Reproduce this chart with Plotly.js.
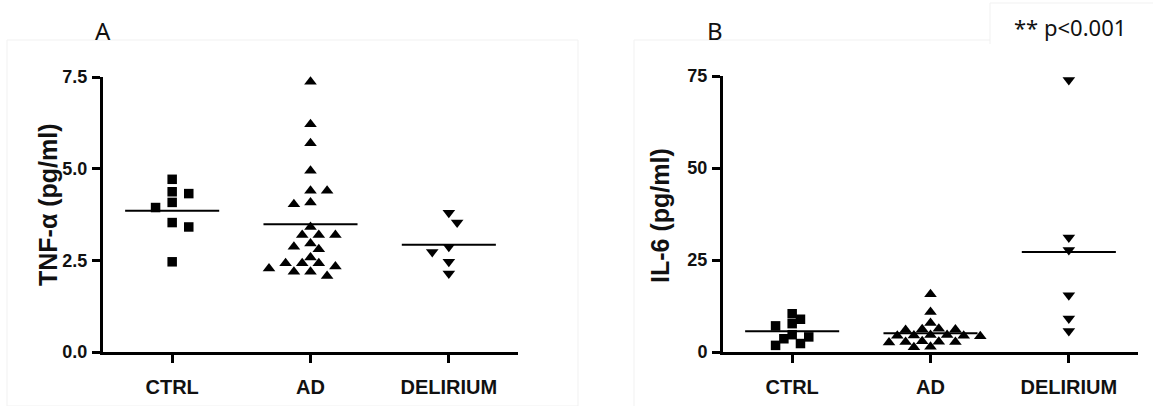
<!DOCTYPE html>
<html><head><meta charset="utf-8">
<script src="https://cdn.plot.ly/plotly-3.0.1.min.js"></script>
<style>html,body{margin:0;padding:0;background:#fff}</style>
</head><body><div id="chart" style="width:1153px;height:406px"></div>
<script>
// ---- data ----
const groups = ["CTRL", "AD", "DELIRIUM"];
const tnfCtrl = [4.71, 4.37, 4.32, 4.08, 3.94, 3.53, 3.41, 2.46];
const tnfAd = [7.37, 6.21, 5.69, 4.94, 4.40, 4.40, 4.08, 4.03, 3.41, 3.19, 3.19, 3.19,
               2.96, 2.87, 2.80, 2.58, 2.42, 2.42, 2.42, 2.33, 2.28, 2.19, 2.19, 2.07];
const tnfDel = [3.80, 3.53, 2.87, 2.73, 2.46, 2.14];
const il6Ctrl = [10.4, 8.9, 7.7, 7.1, 4.7, 4.1, 3.6, 2.3, 1.8];
const il6Ad = [15.7, 10.9, 7.9, 6.3, 6.2, 6.1, 6.0, 4.6, 4.6, 4.5, 4.4, 4.4, 4.3,
               2.9, 2.8, 2.7, 2.7, 2.6, 1.4, 1.3];
const il6Del = [73.9, 31.1, 27.7, 15.4, 9.1, 5.7];
const tnfTicks = [0, 2.5, 5, 7.5];
const il6Ticks = [0, 25, 50, 75];
const panelLabels = ["A", "B"];
const yTitles = ["TNF-\u03b1 (pg/ml)", "IL-6 (pg/ml)"];
const pNote = "** p<0.001";

// ---- geometry ----
const W = 1153, H = 406;
const panels = [
  {xa: 'x', ya: 'y', xpx: [103, 518], ypx: [77, 352], yr: [0, 7.5], ticks: tnfTicks, dec: 1, gap: 10,
   sets: [tnfCtrl, tnfAd, tnfDel]},
  {xa: 'x2', ya: 'y2', xpx: [723, 1138], ypx: [76, 352], yr: [0, 75], ticks: il6Ticks, dec: 0, gap: 9,
   sets: [il6Ctrl, il6Ad, il6Del]}
];
const symbols = ['square', 'triangle-up', 'triangle-down'];
const sizes = [9.5, 11, 11];

// simple balanced beeswarm (pixel space)
function swarm(vals, pxPerX, pxPerY, D, step) {
  const idx = vals.map((v, i) => i).sort((a, b) => vals[b] - vals[a]);
  const placed = [], off = new Array(vals.length).fill(0);
  const free = (x, y) => placed.every(p => Math.hypot(p.x - x, p.y - y) >= D);
  idx.forEach(i => {
    const y = vals[i] * pxPerY;
    for (let m = 0; m < 40; m++) {
      const cands = m === 0 ? [0] : [m * step, -m * step];
      const ok = cands.filter(x => free(x, y));
      if (ok.length) {
        let x = ok[0];
        if (ok.length === 2) {
          const bal = placed.reduce((s, p) => s + p.x, 0);
          x = bal > 0 ? -m * step : m * step;
        }
        placed.push({x, y}); off[i] = x / pxPerX; break;
      }
    }
  });
  return off;
}
const mean = a => a.reduce((s, v) => s + v, 0) / a.length;

const traces = [];
panels.forEach(p => {
  const pxPerX = (p.xpx[1] - p.xpx[0]) / 3;
  const pxPerY = (p.ypx[1] - p.ypx[0]) / (p.yr[1] - p.yr[0]);
  p.sets.forEach((vals, g) => {
    const off = swarm(vals, pxPerX, pxPerY, p.gap, 8.3);
    traces.push({
      type: 'scatter', mode: 'markers', xaxis: p.xa, yaxis: p.ya, cliponaxis: false,
      x: vals.map((v, i) => g + 1 + off[i]), y: vals,
      marker: {symbol: symbols[g], size: sizes[g], color: '#000', line: {width: 0}},
      hoverinfo: 'y'
    });
    const m = mean(vals);
    traces.push({
      type: 'scatter', mode: 'lines', xaxis: p.xa, yaxis: p.ya, cliponaxis: false,
      x: [g + 1 - 0.34, g + 1 + 0.34], y: [m, m],
      line: {color: '#000', width: 2}, hoverinfo: 'skip'
    });
  });
});

const fontFam = 'Liberation Sans, Arial, sans-serif';
function xAxis(p) {
  return {
    domain: [p.xpx[0] / W, p.xpx[1] / W], range: [0.5, 3.5], anchor: p.ya,
    tickvals: [1, 2, 3], ticktext: groups.map(g => '<b>' + g + '</b>'),
    showline: true, linewidth: 3, linecolor: '#000',
    ticks: 'outside', ticklen: 8, tickwidth: 3, tickcolor: '#000', showgrid: false, zeroline: false,
    tickfont: {family: fontFam, size: 20, color: '#111'}, ticklabelstandoff: 7,
    fixedrange: true
  };
}
function yAxis(p) {
  return {
    domain: [1 - p.ypx[1] / H, 1 - p.ypx[0] / H], range: p.yr, anchor: p.xa,
    tickvals: p.ticks, ticktext: p.ticks.map(v => '<b>' + v.toFixed(p.dec) + '</b>'),
    showline: true, linewidth: 3, linecolor: '#000',
    ticks: 'outside', ticklen: 8, tickwidth: 3, tickcolor: '#000', showgrid: false, zeroline: false,
    tickfont: {family: fontFam, size: 18, color: '#111'}, ticklabelstandoff: 1,
    fixedrange: true
  };
}

const px = v => v / W, py = v => 1 - v / H;
const labFont = {family: 'Noto Sans, Open Sans, sans-serif', size: 24, color: '#111'};
const layout = {
  width: W, height: H, margin: {l: 0, r: 0, t: 0, b: 0},
  paper_bgcolor: '#fff', plot_bgcolor: 'rgba(0,0,0,0)', showlegend: false,
  xaxis: xAxis(panels[0]), yaxis: yAxis(panels[0]),
  xaxis2: xAxis(panels[1]), yaxis2: yAxis(panels[1]),
  annotations: [
    {xref: 'paper', yref: 'paper', x: px(103), y: py(31), text: panelLabels[0], showarrow: false,
     xanchor: 'center', yanchor: 'middle', font: labFont},
    {xref: 'paper', yref: 'paper', x: px(715), y: py(31), text: panelLabels[1], showarrow: false,
     xanchor: 'center', yanchor: 'middle', font: labFont},
    {xref: 'paper', yref: 'paper', x: px(1070), y: py(27), text: pNote, showarrow: false,
     xanchor: 'center', yanchor: 'middle', font: {family: labFont.family, size: 22, color: '#111'}},
    {xref: 'paper', yref: 'paper', x: px(48), y: py(205), text: '<b>' + yTitles[0] + '</b>', showarrow: false, textangle: -90,
     xanchor: 'center', yanchor: 'middle', font: {family: fontFam, size: 25, color: '#111'}},
    {xref: 'paper', yref: 'paper', x: px(660), y: py(216), text: '<b>' + yTitles[1] + '</b>', showarrow: false, textangle: -90,
     xanchor: 'center', yanchor: 'middle', font: {family: fontFam, size: 25, color: '#111'}}
  ],
  shapes: [
    {type: 'rect', xref: 'paper', yref: 'paper', x0: px(7), x1: px(578), y0: py(406), y1: py(40),
     line: {color: '#f1f1f1', width: 1}, layer: 'below'},
    {type: 'line', xref: 'paper', yref: 'paper', x0: px(634), x1: px(990), y0: py(40), y1: py(40),
     line: {color: '#f1f1f1', width: 1}, layer: 'below'},
    {type: 'line', xref: 'paper', yref: 'paper', x0: px(634), x1: px(634), y0: py(40), y1: py(406),
     line: {color: '#f1f1f1', width: 1}, layer: 'below'},
    {type: 'line', xref: 'paper', yref: 'paper', x0: px(990), x1: px(990), y0: py(3), y1: py(44),
     line: {color: '#f1f1f1', width: 1}, layer: 'below'},
    {type: 'line', xref: 'paper', yref: 'paper', x0: px(990), x1: px(1153), y0: py(3), y1: py(3),
     line: {color: '#f1f1f1', width: 1}, layer: 'below'}
  ]
};

Plotly.newPlot('chart', traces, layout, {displayModeBar: false, staticPlot: true});
</script>
</body></html>
